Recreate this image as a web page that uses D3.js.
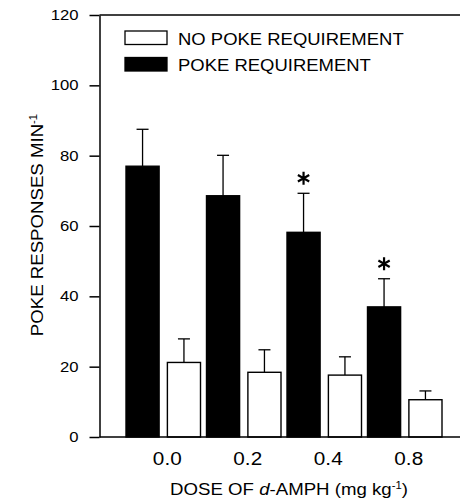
<!DOCTYPE html>
<html>
<head>
<meta charset="utf-8">
<script src="https://cdn.jsdelivr.net/npm/d3@7"></script>
<style>
  body { margin: 0; background: #fff; }
  text { font-family: "Liberation Sans", Arial, sans-serif; fill: #000; }
</style>
</head>
<body>
<div class="canvas"></div>
<script>
// data
const doses = ['0.0', '0.2', '0.4', '0.8'];
const groups = ['poke', 'noPoke'];
const pokeMean = [77, 68.6, 58.2, 37];
const pokeSem = [10.5, 11.5, 11.1, 8];
const noPokeMean = [21.2, 18.4, 17.6, 10.6];
const noPokeSem = [6.7, 6.4, 5.2, 2.5];
const pokeSignificant = [false, false, true, true];
const yTicks = [0, 20, 40, 60, 80, 100, 120];
const legendLabels = ['NO POKE REQUIREMENT', 'POKE REQUIREMENT'];

const dims = { width: 460, height: 502 };
const margin = { left: 99.5, top: 15, bottom: 65 };
const inner = {
    w: dims.width - margin.left,
    h: dims.height - margin.top - margin.bottom
};

const svg = d3.select('.canvas')
    .append('svg')
    .attr('width', dims.width)
    .attr('height', dims.height);

svg.append('rect')
    .attr('width', dims.width)
    .attr('height', dims.height)
    .attr('fill', '#fff');

const graph = svg.append('g')
    .attr('transform', `translate(${margin.left},${margin.top})`);

const y = d3.scaleLinear().domain([0, 120]).range([inner.h, 0]);
const x0 = d3.scaleBand().domain(doses).range([26.5, 342.5]).paddingInner(0.0745);
const x1 = d3.scaleBand().domain(groups).range([0, x0.bandwidth()]).paddingInner(0.2);

// the printed type is a bit wider than Arial, so stretch it sideways
const stretch = (sel, x, yy, sx = 1.13) => sel
    .attr('x', 0).attr('y', 0)
    .attr('transform', `translate(${x},${yy}) scale(${sx},1)`);

const rows = doses.map((d, i) => ({
    dose: d,
    bars: [
        { key: 'poke', mean: pokeMean[i], sem: pokeSem[i], sig: pokeSignificant[i] },
        { key: 'noPoke', mean: noPokeMean[i], sem: noPokeSem[i], sig: false }
    ]
}));

// bars
const groupG = graph.selectAll('g.dose')
    .data(rows)
    .enter().append('g')
    .attr('class', 'dose')
    .attr('transform', d => `translate(${x0(d.dose)},0)`);

const bar = groupG.selectAll('g.bar')
    .data(d => d.bars)
    .enter().append('g')
    .attr('class', 'bar');

// error bars (upper only)
bar.append('line')
    .attr('x1', d => x1(d.key) + x1.bandwidth() / 2)
    .attr('x2', d => x1(d.key) + x1.bandwidth() / 2)
    .attr('y1', d => y(d.mean))
    .attr('y2', d => y(d.mean + d.sem))
    .attr('stroke', '#000')
    .attr('stroke-width', 1.3);

bar.append('line')
    .attr('x1', d => x1(d.key) + x1.bandwidth() / 2 - 6)
    .attr('x2', d => x1(d.key) + x1.bandwidth() / 2 + 6)
    .attr('y1', d => y(d.mean + d.sem))
    .attr('y2', d => y(d.mean + d.sem))
    .attr('stroke', '#000')
    .attr('stroke-width', 1.3);

bar.append('rect')
    .attr('x', d => x1(d.key))
    .attr('y', d => y(d.mean))
    .attr('width', x1.bandwidth())
    .attr('height', d => y(0) - y(d.mean))
    .attr('fill', d => d.key === 'poke' ? '#000' : '#fff')
    .attr('stroke', '#000')
    .attr('stroke-width', 1.4);

// significance asterisks
const star = d3.symbol().type(d3.symbolAsterisk).size(120);
bar.filter(d => d.sig)
    .append('path')
    .attr('d', star)
    .attr('transform', d => `translate(${x1(d.key) + x1.bandwidth() / 2},${y(d.mean + d.sem) - 15})`)
    .attr('fill', 'none')
    .attr('stroke', '#000')
    .attr('stroke-width', 2.2);

// y axis
const yAxis = d3.axisLeft(y)
    .tickValues(yTicks)
    .tickSize(10)
    .tickSizeOuter(0)
    .tickPadding(10);

const yAxisG = graph.append('g').call(yAxis);
yAxisG.select('.domain').attr('stroke-width', 1.5);
yAxisG.selectAll('.tick line').attr('stroke-width', 1.5);
yAxisG.selectAll('.tick text')
    .style('font-size', '14.5px')
    .attr('font-family', null)
    .each(function () { stretch(d3.select(this), -21, 0, 1.15); });

// top frame line and baseline
graph.append('line')
    .attr('x1', 0).attr('x2', inner.w)
    .attr('y1', y(120)).attr('y2', y(120))
    .attr('stroke', '#000').attr('stroke-width', 1.5);

graph.append('line')
    .attr('x1', 0).attr('x2', inner.w)
    .attr('y1', y(0)).attr('y2', y(0))
    .attr('stroke', '#000').attr('stroke-width', 1.5);

// x axis labels
const xAxis = d3.axisBottom(x0).tickSize(0).tickSizeOuter(0);
const xAxisG = graph.append('g')
    .attr('transform', `translate(0,${inner.h})`)
    .call(xAxis);
xAxisG.select('.domain').remove();
xAxisG.selectAll('.tick text')
    .style('font-size', '18.5px')
    .attr('font-family', null)
    .attr('dy', null)
    .each(function () { stretch(d3.select(this), 4, 28, 1.12); });

// axis titles
const xTitle = svg.append('text')
    .attr('text-anchor', 'middle')
    .style('font-size', '16.5px');
stretch(xTitle, 289, 495);
xTitle.append('tspan').text('DOSE OF ');
xTitle.append('tspan').style('font-style', 'italic').text('d');
xTitle.append('tspan').text('-AMPH (mg kg');
xTitle.append('tspan').style('font-size', '10px').attr('dy', -6).text('-1');
xTitle.append('tspan').attr('dy', 6).text(')');

const yTitle = svg.append('text')
    .attr('text-anchor', 'middle')
    .style('font-size', '16.5px')
    .attr('x', 0).attr('y', 0)
    .attr('transform', 'translate(43,225) rotate(-90) scale(1.13,1)');
yTitle.append('tspan').text('POKE RESPONSES MIN');
yTitle.append('tspan').style('font-size', '10px').attr('dy', -6).text('-1');

// legend
const legend = svg.append('g').attr('transform', 'translate(125,31)');
const legendItem = legend.selectAll('g')
    .data(legendLabels)
    .enter().append('g')
    .attr('transform', (d, i) => `translate(0,${i * 26.5})`);

legendItem.append('rect')
    .attr('width', 42)
    .attr('height', 13.5)
    .attr('fill', (d, i) => i === 0 ? '#fff' : '#000')
    .attr('stroke', '#000')
    .attr('stroke-width', 1.3);

legendItem.append('text')
    .style('font-size', '16.5px')
    .text(d => d)
    .each(function () { stretch(d3.select(this), 53, 13.5, 1.12); });
</script>
</body>
</html>
